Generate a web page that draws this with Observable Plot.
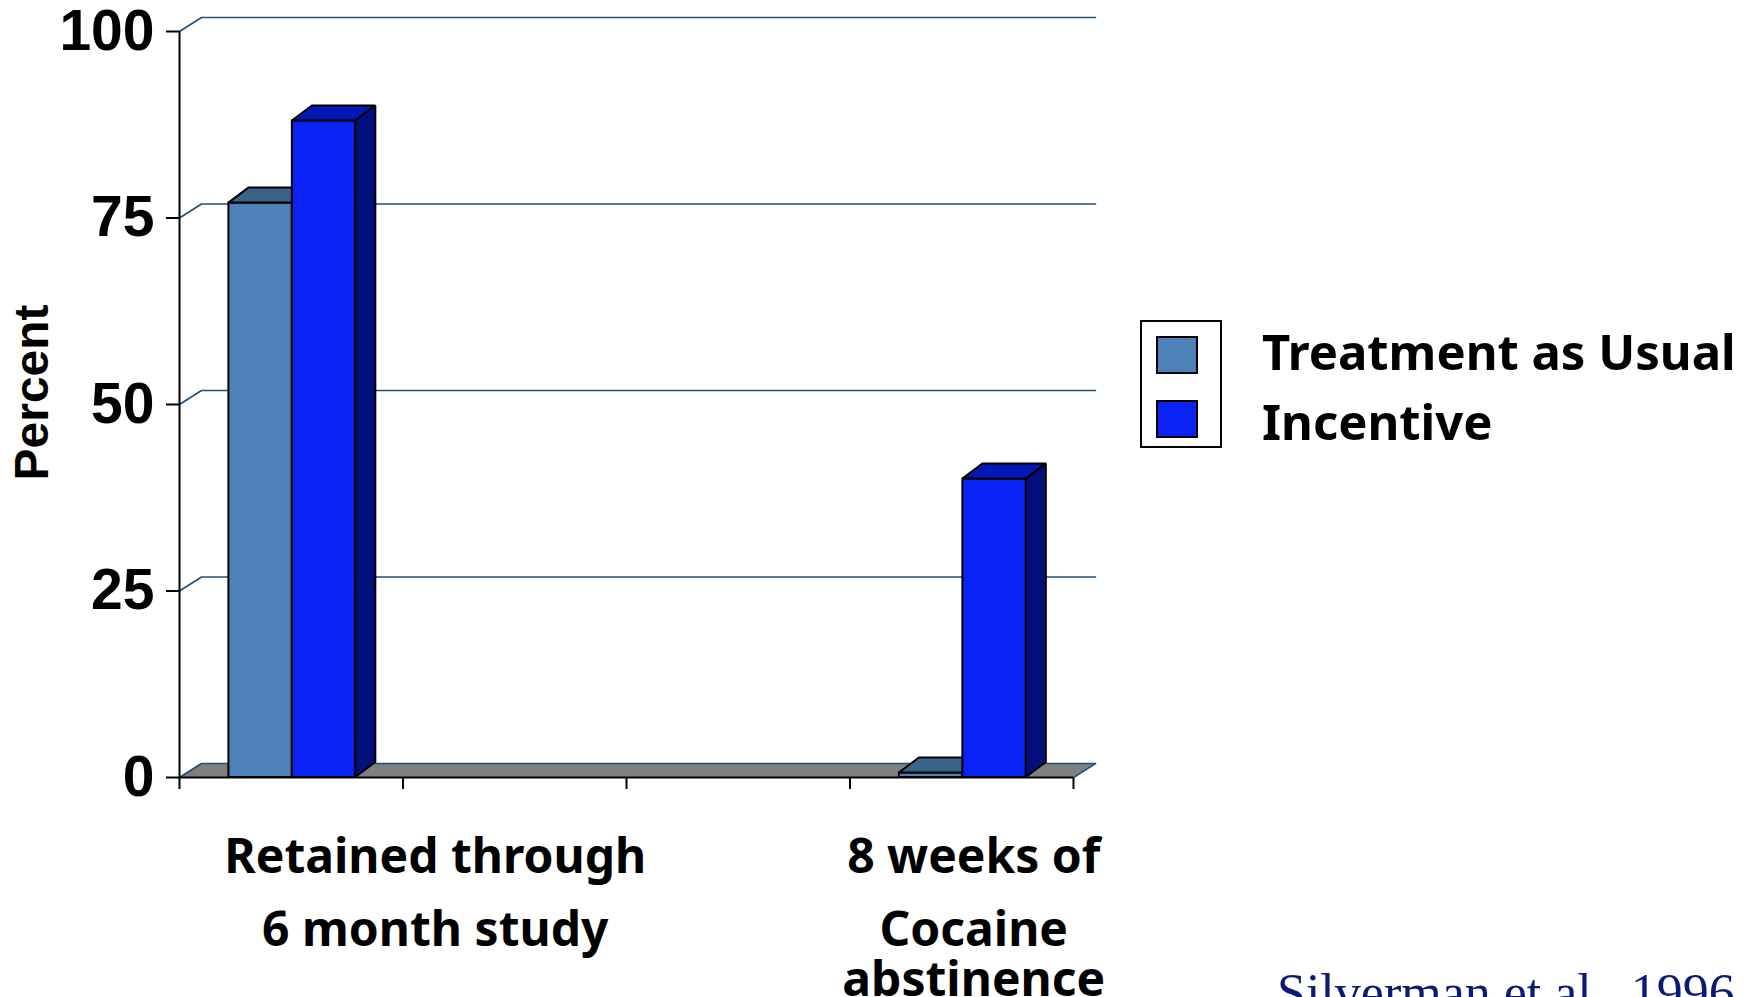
<!DOCTYPE html>
<html>
<head>
<meta charset="utf-8">
<script src="https://cdn.jsdelivr.net/npm/d3@7"></script>
<script src="https://cdn.jsdelivr.net/npm/@observablehq/plot@0.6"></script>
<style>
  html, body { margin: 0; padding: 0; background: #fff; width: 1756px; height: 997px; overflow: hidden; }
  #wrap { position: relative; width: 1756px; height: 997px; }
  #wrap svg { position: absolute; left: 0; top: 0; }
  #chart g[aria-label^="y-axis"] path, #chart g[aria-label^="y-axis"] line,
  #chart g[aria-label^="x-axis"] path, #chart g[aria-label^="x-axis"] line { stroke-width: 2px; }
</style>
</head>
<body>
<div id="wrap"></div>
<script>
// ---------------- data ----------------
const categories = ["Retained through\n6 month study", "", "", "8 weeks of\nCocaine\nabstinence"];
const seriesNames = ["Treatment as Usual", "Incentive"];
const treatmentAsUsual = [77, null, null, 0.6];
const incentive = [88, null, null, 40];
const yTicks = [0, 25, 50, 75, 100];
const yLabel = "Percent";
const citation = "Silverman et al., 1996";

// ---------------- layout / style ----------------
const W = 1756, H = 997;
const M = {left: 179, right: 683, top: 31, bottom: 220};
const nSlots = categories.length;
const pxPerX = (W - M.left - M.right) / nSlots;
const pxPerY = (H - M.top - M.bottom) / 100;
const wall = {dx: 22 / pxPerX, dy: 14 / pxPerY};
const depth = {dx: 20 / pxPerX, dy: 15 / pxPerY};
const groupCenter = 0.505, barWidth = 0.284;
const gridColor = "#1d4e7c";
const floorColor = "#808080";
const styles = [
  {front: "#4d81b8", top: "#3b6289", side: "#2c4d70"},
  {front: "#0a22f5", top: "#0219b8", side: "#030f7d"}
];
const labelDx = [144, 0, 0, 12];
const lineDy = [80, 153, 203];
const labelFont = "'Noto Sans', 'DejaVu Sans', sans-serif";

const seriesValues = [treatmentAsUsual, incentive];

function barMarks(values, k) {
  const st = styles[k];
  const bars = values.map((v, i) => v == null ? null : {
    id: k + "-" + i, v,
    x1: i + groupCenter - barWidth + k * barWidth,
    x2: i + groupCenter + k * barWidth
  }).filter(Boolean);
  const tops = bars.flatMap(b => [
    {id: b.id, y: b.v, x1: b.x1, x2: b.x2},
    {id: b.id, y: b.v + depth.dy, x1: b.x1 + depth.dx, x2: b.x2 + depth.dx}
  ]);
  const sides = bars.flatMap(b => [
    {id: b.id, x: b.x2, y1: 0, y2: b.v},
    {id: b.id, x: b.x2 + depth.dx, y1: depth.dy, y2: b.v + depth.dy}
  ]);
  return [
    Plot.rect(bars, {x1: "x1", x2: "x2", y1: () => 0, y2: "v", fill: st.front, stroke: "#000", strokeWidth: 2}),
    Plot.areaX(tops, {y: "y", x1: "x1", x2: "x2", z: "id", fill: st.top, stroke: "#000", strokeWidth: 2, strokeLinejoin: "miter"}),
    Plot.areaY(sides, {x: "x", y1: "y1", y2: "y2", z: "id", fill: st.side, stroke: "#000", strokeWidth: 2, strokeLinejoin: "miter"})
  ];
}

const gridPts = yTicks.flatMap(t => [
  {t, x: 0, y: t},
  {t, x: wall.dx, y: t + wall.dy},
  {t, x: nSlots + wall.dx, y: t + wall.dy}
]);
const floorPts = [
  {y: 0, x1: 0, x2: nSlots},
  {y: wall.dy, x1: wall.dx, x2: nSlots + wall.dx}
];
const floorEdge = [{x: nSlots, y: 0}, {x: nSlots + wall.dx, y: wall.dy}];

const labelMarks = [];
categories.forEach((c, i) => {
  if (!c) return;
  c.split("\n").forEach((line, k) => {
    labelMarks.push(Plot.text([line], {
      x: () => i + 0.5, y: () => 0, text: d => d,
      dx: labelDx[i], dy: lineDy[k],
      fontSize: 48, fontWeight: "bold", fontFamily: labelFont,
      lineAnchor: "middle", fill: "#000"
    }));
  });
});

const chart = Plot.plot({
  width: W, height: H,
  marginLeft: M.left, marginRight: M.right, marginTop: M.top, marginBottom: M.bottom,
  style: {fontFamily: "'Liberation Sans', Arial, sans-serif", fontSize: "57px", fontWeight: "bold", background: "transparent", overflow: "visible", color: "#000"},
  x: {domain: [0, nSlots], ticks: d3.range(nSlots + 1), tickFormat: () => "", tickSize: 12, label: null},
  y: {domain: [0, 100], ticks: yTicks, tickSize: 13, tickPadding: 12, label: null},
  marks: [
    Plot.areaX(floorPts, {y: "y", x1: "x1", x2: "x2", fill: floorColor}),
    Plot.line(gridPts, {x: "x", y: "y", z: "t", stroke: gridColor, strokeWidth: 1.6}),
    Plot.line(floorEdge, {x: "x", y: "y", stroke: gridColor, strokeWidth: 1.6}),
    Plot.ruleX([0], {y1: 0, y2: 100, stroke: "#000", strokeWidth: 2}),
    Plot.ruleY([0], {x1: 0, x2: nSlots, stroke: "#000", strokeWidth: 2}),
    ...barMarks(seriesValues[0], 0),
    ...barMarks(seriesValues[1], 1),
    Plot.text([yLabel], {text: d => d, frameAnchor: "left", dx: -147, dy: 76, rotate: -90,
      fontSize: 48, fontWeight: "bold", fontFamily: "'Liberation Sans', Arial, sans-serif", fill: "#000"}),
    ...labelMarks
  ]
});
chart.id = "chart";
document.getElementById("wrap").appendChild(chart);

// ---------------- legend + citation overlay ----------------
const ov = d3.select("#wrap").append("svg")
  .attr("width", W).attr("height", H)
  .style("pointer-events", "none");
const lg = ov.append("g");
lg.append("rect").attr("x", 1141).attr("y", 321).attr("width", 80).attr("height", 126)
  .attr("fill", "#fff").attr("stroke", "#000").attr("stroke-width", 2);
seriesNames.forEach((name, k) => {
  lg.append("rect").attr("x", 1157).attr("y", 337 + k * 64).attr("width", 40).attr("height", 36)
    .attr("fill", styles[k].front).attr("stroke", "#000").attr("stroke-width", 2);
  lg.append("text").attr("x", 1262).attr("y", 370 + k * 70)
    .attr("font-family", labelFont).attr("font-weight", "bold").attr("font-size", 49)
    .attr("fill", "#000").text(name);
});
ov.append("text").attr("x", 1277).attr("y", 1010)
  .attr("font-family", "'Liberation Serif', 'Times New Roman', serif").attr("font-size", 52)
  .attr("fill", "#0b1a72").text(citation);
</script>
</body>
</html>
